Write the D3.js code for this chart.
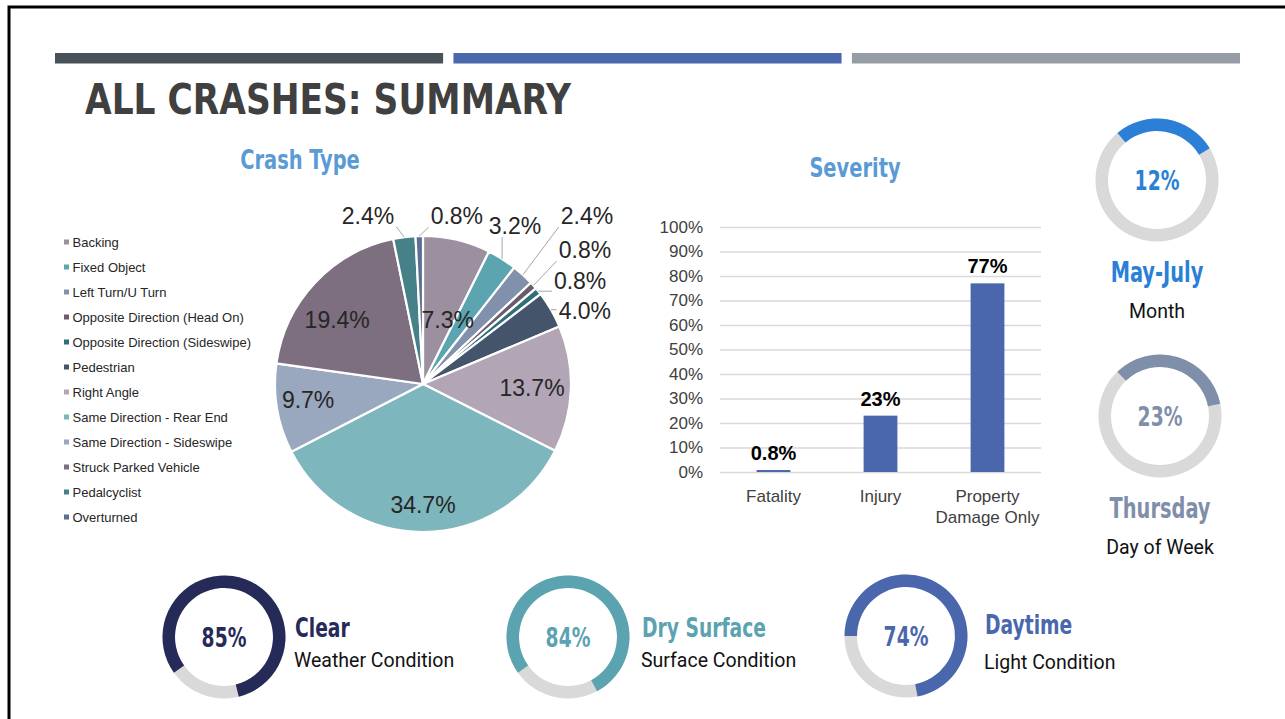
<!DOCTYPE html>
<html>
<head>
<meta charset="utf-8">
<script src="https://cdn.jsdelivr.net/npm/d3@7"></script>
<style>
  body { margin: 0; background: #fff; }
  svg { display: block; }
  .narrow { font-family: "Liberation Sans Narrow", "Arial Narrow", "DejaVu Sans Condensed", sans-serif; font-weight: bold; }
  .plain { font-family: "Liberation Sans", Arial, sans-serif; }
  .roboto { font-family: Roboto, "Liberation Sans", sans-serif; }
</style>
</head>
<body>
<svg id="chart" width="1285" height="719"></svg>
<script>
// ---- data ----
const crashTypes = ["Backing", "Fixed Object", "Left Turn/U Turn", "Opposite Direction (Head On)",
  "Opposite Direction (Sideswipe)", "Pedestrian", "Right Angle", "Same Direction - Rear End",
  "Same Direction - Sideswipe", "Struck Parked Vehicle", "Pedalcyclist", "Overturned"];
const crashPct = [7.3, 3.2, 2.4, 0.8, 0.8, 4.0, 13.7, 34.7, 9.7, 19.4, 2.4, 0.8];
const crashColors = ["#9c8fa0", "#5ba4b0", "#8190ab", "#6b5b6e", "#2f6f78", "#44546a",
  "#b1a5b6", "#7eb6bd", "#99a7bf", "#7d6e80", "#468089", "#5c6f91"];

const severityCats = ["Fatality", "Injury", "Property Damage Only"];
const severityPct = [0.8, 23, 77];
const severityLabels = ["0.8%", "23%", "77%"];
const severityTicks = [0, 10, 20, 30, 40, 50, 60, 70, 80, 90, 100];

const ringValues = ["12%", "23%", "85%", "84%", "74%"];
const ringShare = [0.275, 0.34, 0.81, 0.77, 0.72]; // arc length as drawn on the slide
const ringTitles = ["May-July", "Thursday", "Clear", "Dry Surface", "Daytime"];
const ringSubtitles = ["Month", "Day of Week", "Weather Condition", "Surface Condition", "Light Condition"];
const ringColors = ["#2b7fd6", "#7f8fa9", "#262a58", "#5ba3b0", "#4a67ad"];

const headerColors = ["#475359", "#4a67ad", "#969ca5"];

// ---- layout ----
const W = 1285, H = 719;
const svg = d3.select("#chart");

// squeeze the bold headings, the slide uses a condensed face
function condense(sel, k) {
  sel.each(function() {
    const w = this.getComputedTextLength();
    d3.select(this).attr("textLength", w * k).attr("lengthAdjust", "spacingAndGlyphs");
  });
  return sel;
}

// frame
svg.append("path").attr("d", `M9,${H} V7 H${W}`).attr("fill", "none")
  .attr("stroke", "#000").attr("stroke-width", 3);

// header bars
const hx = d3.scaleBand().domain(d3.range(headerColors.length)).range([55, 1240]).paddingInner(0.026);
svg.selectAll(".hbar").data(headerColors).join("rect")
  .attr("x", (d, i) => hx(i)).attr("y", 53).attr("width", hx.bandwidth()).attr("height", 10.5)
  .attr("fill", d => d);

svg.append("text").attr("class", "narrow").attr("x", 85).attr("y", 114)
  .attr("font-size", 43).attr("fill", "#404040").text("ALL CRASHES: SUMMARY")
  .call(condense, 0.89);

// ---- crash type pie ----
svg.append("text").attr("class", "narrow").attr("x", 300).attr("y", 169)
  .attr("text-anchor", "middle").attr("font-size", 27).attr("fill", "#5b9bd5").text("Crash Type")
  .call(condense, 0.8);

const R = 148;
const pie = svg.append("g").attr("transform", "translate(423,384)");
const arcs = d3.pie().sort(null).value(d => d)(crashPct);
const arc = d3.arc().innerRadius(0).outerRadius(R);
pie.selectAll("path").data(arcs).join("path")
  .attr("d", arc).attr("fill", (d, i) => crashColors[i])
  .attr("stroke", "#fff").attr("stroke-width", 2.2);

const polar = (a, r) => [Math.sin(a) * r, -Math.cos(a) * r];

// label spots: [angle deg, radius factor], as placed on the slide
const labelSpots = [[21, 0.466], [30.2, 1.235], [44.3, 1.586], [50.4, 1.42], [56.7, 1.27],
  [65.7, 1.2], [92, 0.737], [180, 0.818], [262, 0.784], [306.7, 0.723], [341.9, 1.196], [11.4, 1.157]];

arcs.forEach((d, i) => {
  const spot = labelSpots[i];
  const [lx, ly] = polar(spot[0] * Math.PI / 180, R * spot[1]);
  const t = pie.append("text").attr("class", "plain").attr("x", lx).attr("y", ly)
    .attr("text-anchor", "middle").attr("dominant-baseline", "central")
    .attr("font-size", 23).attr("fill", "#262626").text(d.value.toFixed(1) + "%");
  if (spot[1] < 1) return;
  // leader line from the slice edge to the nearest side of the label
  const bb = t.node().getBBox();
  const mid = (d.startAngle + d.endAngle) / 2;
  const [ax, ay] = polar(mid, R);
  const ex = Math.max(bb.x - 2, Math.min(ax, bb.x + bb.width + 2));
  const ey = Math.max(bb.y + 3, Math.min(ay, bb.y + bb.height - 2));
  pie.insert("line", "text").attr("x1", ax).attr("y1", ay).attr("x2", ex).attr("y2", ey)
    .attr("stroke", "#a6a6a6").attr("stroke-width", 1);
});

// legend
const legend = svg.append("g").attr("class", "plain");
const ly = d3.scalePoint().domain(crashTypes).range([242, 517]);
legend.selectAll("rect").data(crashTypes).join("rect")
  .attr("x", 64).attr("y", d => ly(d) - 2.5).attr("width", 5).attr("height", 5)
  .attr("fill", (d, i) => crashColors[i]);
legend.selectAll("text").data(crashTypes).join("text")
  .attr("x", 72.5).attr("y", d => ly(d)).attr("dominant-baseline", "central")
  .attr("font-size", 13).attr("fill", "#262626").text(d => d);

// ---- severity bar chart ----
svg.append("text").attr("class", "narrow").attr("x", 855).attr("y", 177)
  .attr("text-anchor", "middle").attr("font-size", 27).attr("fill", "#5b9bd5").text("Severity")
  .call(condense, 0.8);

const x = d3.scaleBand().domain(severityCats).range([720, 1041]).paddingInner(0.684).paddingOuter(0.342);
const y = d3.scaleLinear().domain([0, 100]).range([472, 227]);
const bars = svg.append("g");

bars.append("g").attr("class", "plain").attr("transform", "translate(720,0)")
  .call(d3.axisLeft(y).tickValues(severityTicks).tickSize(-321).tickPadding(17).tickFormat(d => d + "%"))
  .call(g => g.select(".domain").remove())
  .call(g => g.selectAll("line").attr("stroke", "#d9d9d9").attr("stroke-width", 1.3))
  .call(g => g.selectAll("text").attr("font-size", 17).attr("fill", "#404040").attr("font-family", null));

bars.selectAll(".bar").data(severityPct).join("rect").attr("class", "bar")
  .attr("x", (d, i) => x(severityCats[i])).attr("width", x.bandwidth())
  .attr("y", d => y(d)).attr("height", d => y(0) - y(d)).attr("fill", "#4a67ad");

bars.selectAll(".val").data(severityPct).join("text").attr("class", "val plain")
  .attr("x", (d, i) => x(severityCats[i]) + x.bandwidth() / 2).attr("y", d => y(d) - 10)
  .attr("text-anchor", "middle").attr("font-size", 20).attr("font-weight", "bold")
  .attr("fill", "#000").text((d, i) => severityLabels[i]);

// category labels, wrapped to the band step
severityCats.forEach(c => {
  const t = bars.append("text").attr("class", "plain").attr("text-anchor", "middle")
    .attr("font-size", 17).attr("fill", "#404040")
    .attr("x", x(c) + x.bandwidth() / 2).attr("y", 502);
  const words = c.split(" ");
  let line = [];
  let ts = t.append("tspan").attr("x", x(c) + x.bandwidth() / 2).attr("dy", 0);
  words.forEach(w => {
    line.push(w);
    ts.text(line.join(" "));
    if (ts.node().getComputedTextLength() > x.step() && line.length > 1) {
      line.pop();
      ts.text(line.join(" "));
      line = [w];
      ts = t.append("tspan").attr("x", x(c) + x.bandwidth() / 2).attr("dy", 21).text(w);
    }
  });
});

// ---- ring gauges ----
const ringSpots = [
  {cx: 1157, cy: 180, start: -40, side: "below"},
  {cx: 1160, cy: 416, start: -44, side: "below"},
  {cx: 224, cy: 637, start: 234.5, side: "right", tx: 71, ty: -10, sy: 23},
  {cx: 568, cy: 637, start: 234.5, side: "right", tx: 74, ty: -10, sy: 23},
  {cx: 906, cy: 636, start: 270, side: "right", tx: 79, ty: -12, sy: 26}
];
const ringArc = d3.arc().innerRadius(49).outerRadius(61.5);
ringValues.forEach((v, i) => {
  const s = ringSpots[i];
  const g = svg.append("g").attr("transform", `translate(${s.cx},${s.cy})`);
  const a0 = s.start * Math.PI / 180;
  g.append("path").attr("d", ringArc({startAngle: 0, endAngle: 2 * Math.PI})).attr("fill", "#d9d9d9");
  g.append("path").attr("d", ringArc({startAngle: a0, endAngle: a0 + ringShare[i] * 2 * Math.PI}))
    .attr("fill", ringColors[i]);
  g.append("text").attr("class", "narrow").attr("text-anchor", "middle").attr("dominant-baseline", "central")
    .attr("y", 1).attr("font-size", 26).attr("fill", ringColors[i]).text(v)
    .call(condense, 0.8);
  if (s.side === "below") {
    g.append("text").attr("class", "narrow").attr("text-anchor", "middle").attr("dominant-baseline", "central")
      .attr("y", 92).attr("font-size", 28).attr("fill", ringColors[i]).text(ringTitles[i])
      .call(condense, 0.77);
    g.append("text").attr("class", "roboto").attr("text-anchor", "middle").attr("dominant-baseline", "central")
      .attr("y", 131).attr("font-size", 19.5).attr("fill", "#111").text(ringSubtitles[i]);
  } else {
    g.append("text").attr("class", "narrow").attr("dominant-baseline", "central")
      .attr("x", s.tx).attr("y", s.ty).attr("font-size", 27).attr("fill", ringColors[i]).text(ringTitles[i])
      .call(condense, 0.77);
    g.append("text").attr("class", "roboto").attr("dominant-baseline", "central")
      .attr("x", s.tx - 1).attr("y", s.sy).attr("font-size", 19.5).attr("fill", "#111").text(ringSubtitles[i]);
  }
});
</script>
</body>
</html>
